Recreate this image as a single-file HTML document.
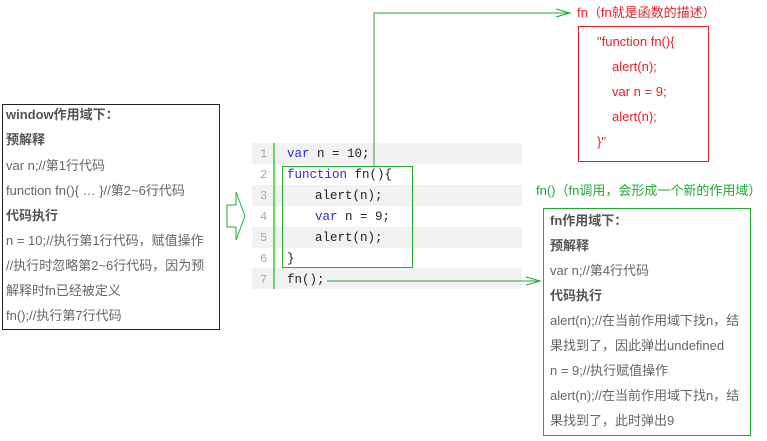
<!DOCTYPE html>
<html><head><meta charset="utf-8"><style>
body{margin:0;width:767px;height:441px;background:#fff;position:relative;overflow:hidden;font-family:"Liberation Sans","Noto Sans CJK SC",sans-serif;font-size:13px;color:#666}
.a{position:absolute;white-space:nowrap;line-height:16px}
.b{font-weight:bold;color:#555}
.box{position:absolute;box-sizing:border-box}
.row{position:absolute;left:252px;width:270px;height:21px}
.mono{font-family:"Liberation Mono","DejaVu Sans Mono",monospace;font-size:12.5px;color:#222}
.kw{color:#2a2ae0}
.ln{color:#aaa;font-family:"Liberation Mono",monospace;font-size:12px}
.r{color:#e8202a}
.g{color:#22aa33}
</style></head><body>
<div class="box" style="left:2px;top:104px;width:218px;height:226px;border:1px solid #222"></div>
<div class="a b" style="left:6px;top:107px">window作用域下：</div>
<div class="a b" style="left:6px;top:132px">预解释</div>
<div class="a" style="left:6px;top:158px">var n;//第1行代码</div>
<div class="a" style="left:6px;top:183px">function fn(){ … }//第2~6行代码</div>
<div class="a b" style="left:6px;top:208px">代码执行</div>
<div class="a" style="left:6px;top:233px">n = 10;//执行第1行代码，赋值操作</div>
<div class="a" style="left:6px;top:258px">//执行时忽略第2~6行代码，因为预</div>
<div class="a" style="left:6px;top:283px">解释时fn已经被定义</div>
<div class="a" style="left:6px;top:308px">fn();//执行第7行代码</div>

<div class="row" style="top:143px;background:#f2f2f2"></div>
<div class="row" style="top:185px;background:#f2f2f2"></div>
<div class="row" style="top:227px;background:#f2f2f2"></div>
<div class="row" style="top:268px;background:#f2f2f2"></div>
<div class="box" style="left:273px;top:143px;width:2px;height:146px;background:#6cd46c"></div>

<svg style="position:absolute;left:0;top:0" width="767" height="441">
<polygon points="227,205 236,205 236,192 245,216 236,240 236,227 227,227" fill="none" stroke="#22aa33" stroke-width="1"/>
<polyline points="374,166 374,13 570,13" fill="none" stroke="#22aa33" stroke-width="1"/>
<polyline points="556,9 570,13 556,17" fill="none" stroke="#22aa33"/>
<line x1="327" y1="281" x2="540" y2="281" stroke="#22aa33"/>
<polyline points="526,277 540,281 526,285" fill="none" stroke="#22aa33"/>
</svg>

<div class="a ln" style="left:260px;top:146px">1</div>
<div class="a ln" style="left:260px;top:167px">2</div>
<div class="a ln" style="left:260px;top:188px">3</div>
<div class="a ln" style="left:260px;top:209px">4</div>
<div class="a ln" style="left:260px;top:230px">5</div>
<div class="a ln" style="left:260px;top:251px">6</div>
<div class="a ln" style="left:260px;top:272px">7</div>
<div class="a mono" style="left:287px;top:146px"><span class="kw">var</span> n = 10;</div>
<div class="a mono" style="left:287px;top:167px"><span class="kw">function</span> fn(){</div>
<div class="a mono" style="left:315px;top:188px">alert(n);</div>
<div class="a mono" style="left:315px;top:209px"><span class="kw">var</span> n = 9;</div>
<div class="a mono" style="left:315px;top:230px">alert(n);</div>
<div class="a mono" style="left:287px;top:251px">}</div>
<div class="a mono" style="left:287px;top:272px">fn();</div>
<div class="box" style="left:282px;top:166px;width:131px;height:102px;border:1px solid #22aa33"></div>

<div class="a r" style="left:577px;top:5px">fn（fn就是函数的描述）</div>
<div class="box" style="left:578px;top:26px;width:131px;height:136px;border:1px solid #e8202a"></div>
<div class="a r" style="left:597px;top:34px">"function fn(){</div>
<div class="a r" style="left:612px;top:59px">alert(n);</div>
<div class="a r" style="left:612px;top:84px">var n = 9;</div>
<div class="a r" style="left:612px;top:109px">alert(n);</div>
<div class="a r" style="left:597px;top:134px">}"</div>

<div class="a g" style="left:536px;top:183px">fn()（fn调用，会形成一个新的作用域）</div>
<div class="box" style="left:543px;top:208px;width:208px;height:228px;border:1px solid #22aa33"></div>
<div class="a b" style="left:550px;top:213px">fn作用域下：</div>
<div class="a b" style="left:550px;top:238px">预解释</div>
<div class="a" style="left:550px;top:263px">var n;//第4行代码</div>
<div class="a b" style="left:550px;top:288px">代码执行</div>
<div class="a" style="left:550px;top:313px">alert(n);//在当前作用域下找n，结</div>
<div class="a" style="left:550px;top:338px">果找到了，因此弹出undefined</div>
<div class="a" style="left:550px;top:363px">n = 9;//执行赋值操作</div>
<div class="a" style="left:550px;top:388px">alert(n);//在当前作用域下找n，结</div>
<div class="a" style="left:550px;top:413px">果找到了，此时弹出9</div>
</body></html>
